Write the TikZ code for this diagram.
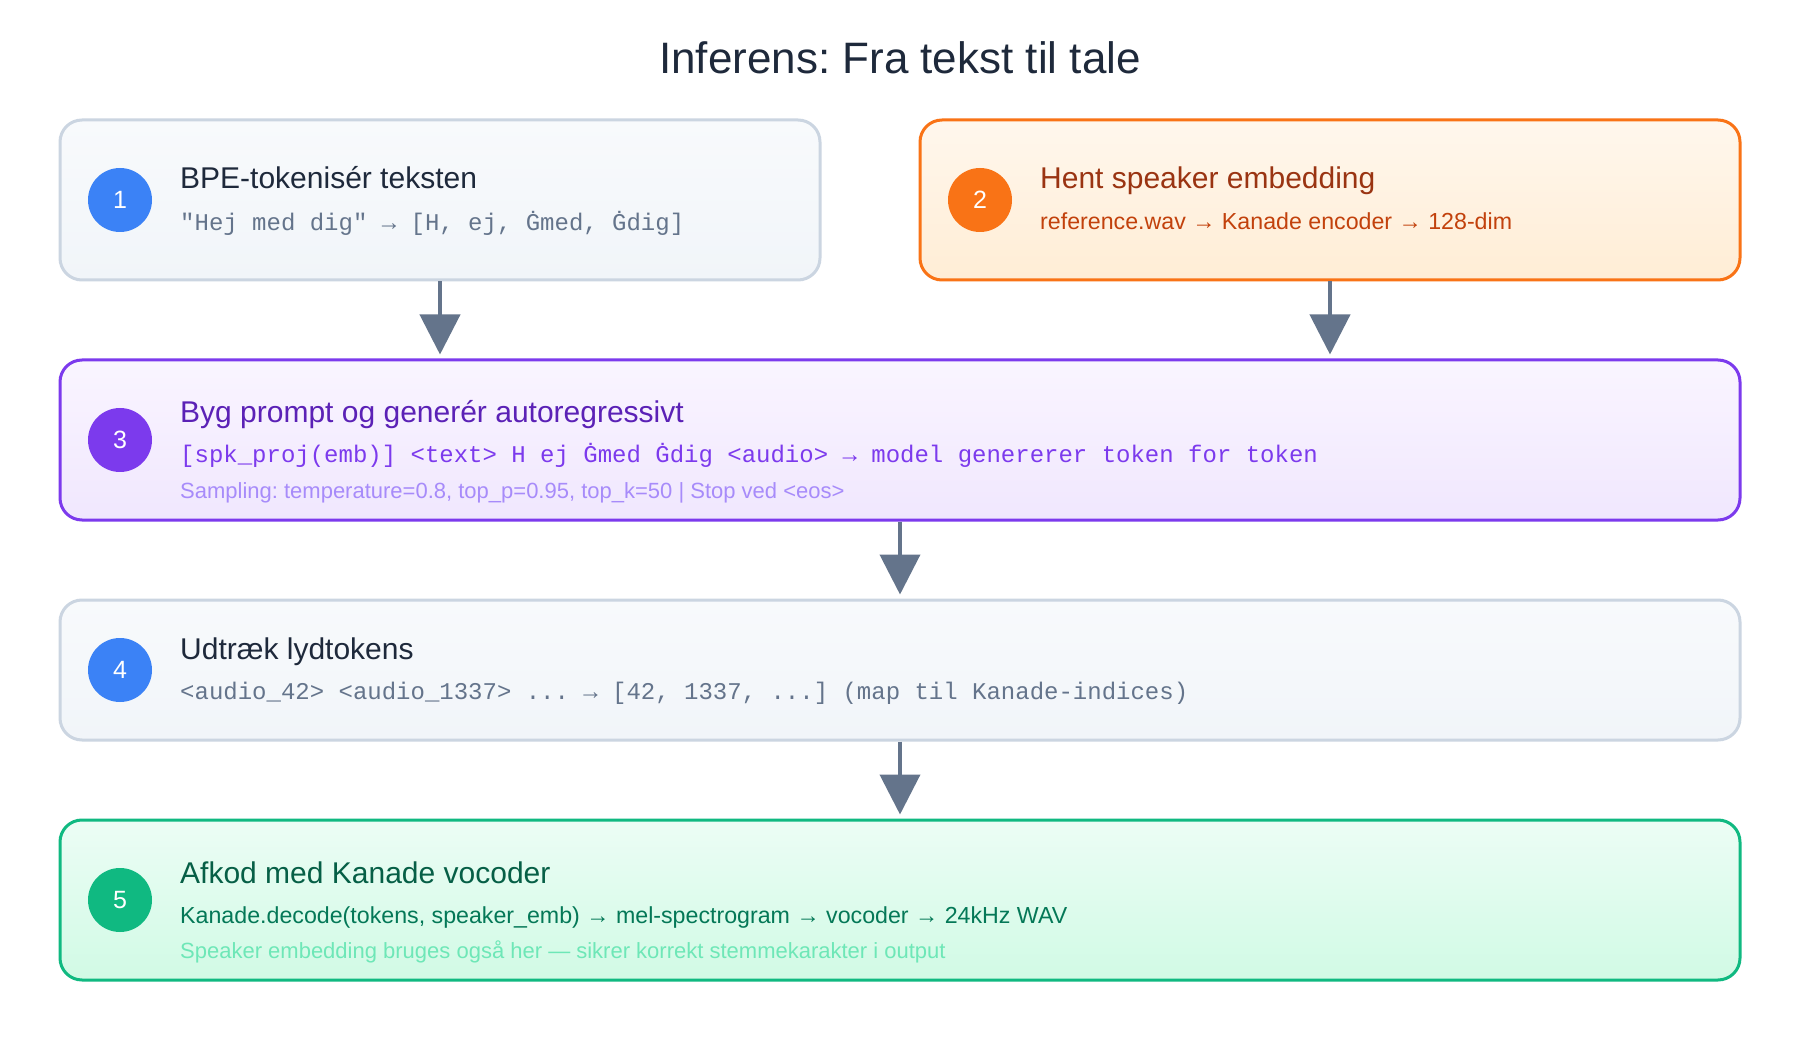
\documentclass[tikz,border=0pt]{standalone}
\usepackage{fontspec}
\setmainfont{Liberation Sans}
\setmonofont{Liberation Mono}
\usepackage{xcolor}
\usetikzlibrary{arrows.meta}
\definecolor{ink}{HTML}{1E293B}
\definecolor{arrowgray}{HTML}{64748B}
\definecolor{slateline}{HTML}{CBD5E1}
\definecolor{slatetop}{HTML}{F8FAFC}
\definecolor{slatebot}{HTML}{F1F5F9}
\definecolor{slatesub}{HTML}{64748B}
\definecolor{bluedot}{HTML}{3B82F6}
\definecolor{orangeline}{HTML}{F97316}
\definecolor{orangetop}{HTML}{FFF7ED}
\definecolor{orangebot}{HTML}{FFEDD5}
\definecolor{orangehead}{HTML}{9A3412}
\definecolor{orangesub}{HTML}{C2410C}
\definecolor{violetline}{HTML}{7C3AED}
\definecolor{violettop}{HTML}{FAF5FF}
\definecolor{violetbot}{HTML}{F0E7FE}
\definecolor{violethead}{HTML}{5B21B6}
\definecolor{violetsub}{HTML}{7C3AED}
\definecolor{violetnote}{HTML}{A78BFA}
\definecolor{greenline}{HTML}{10B981}
\definecolor{greentop}{HTML}{ECFDF5}
\definecolor{greenbot}{HTML}{D1FAE5}
\definecolor{greenhead}{HTML}{065F46}
\definecolor{greensub}{HTML}{047857}
\definecolor{greennote}{HTML}{6EE7B7}
\newcommand{\fs}[1]{\fontsize{#1}{#1}\selectfont}
\newcommand{\headtxt}[1]{{\fs{30}#1}}
\newcommand{\codetxt}[1]{{\fs{24}\ttfamily #1}}
\newcommand{\subtxt}[1]{{\fs{23.2}#1}}
\newcommand{\notetxt}[1]{{\fs{22}#1}}
\tikzset{
  box/.style={draw, line width=3pt, rounded corners=22pt, inner sep=0pt},
  badge/.style={circle, minimum size=64pt, inner sep=0pt, text=white, font=\fs{25}},
  txt/.style={anchor=base west, inner sep=0pt},
  flow/.style={color=arrowgray, line width=4pt, shorten >=4pt,
    -{Triangle[width=40pt,length=40pt]}}
}

\begin{document}
\frenchspacing
\begin{tikzpicture}[x=1pt,y=-1pt]
    \useasboundingbox[fill=white] (0,0) rectangle (1800,1040);
    \node[anchor=base, font=\fs{44}, text=ink] (title) at (900,74) {Inferens: Fra tekst til tale};

    % boxes
    \node[box, draw=slateline, top color=slatetop, bottom color=slatebot,
      minimum width=760pt, minimum height=160pt] (step-1) at (440,200) {};
    \node[box, draw=orangeline, top color=orangetop, bottom color=orangebot,
      minimum width=820pt, minimum height=160pt] (step-2) at (1330,200) {};
    \node[box, draw=violetline, top color=violettop, bottom color=violetbot,
      minimum width=1680pt, minimum height=160pt] (step-3) at (900,440) {};
    \node[box, draw=slateline, top color=slatetop, bottom color=slatebot,
      minimum width=1680pt, minimum height=140pt] (step-4) at (900,670) {};
    \node[box, draw=greenline, top color=greentop, bottom color=greenbot,
      minimum width=1680pt, minimum height=160pt] (step-5) at (900,900) {};

    % numbers
    \node[badge, fill=bluedot]    (num-1) at (120,200) {1};
    \node[badge, fill=orangeline] (num-2) at (980,200) {2};
    \node[badge, fill=violetline] (num-3) at (120,440) {3};
    \node[badge, fill=bluedot]    (num-4) at (120,670) {4};
    \node[badge, fill=greenline]  (num-5) at (120,900) {5};

    % texts
    \node[txt, text=ink] (head-1) at (180,189) {\headtxt{BPE-tokenisér teksten}};
    \node[txt, text=slatesub] (code-1) at (180,231) {\codetxt{"Hej med dig" → [H, ej, Ġmed, Ġdig]}};
    \node[txt, text=orangehead] (head-2) at (1040,189) {\headtxt{Hent speaker embedding}};
    \node[txt, text=orangesub] (sub-2) at (1040,230) {\subtxt{reference.wav → Kanade encoder → 128-dim}};
    \node[txt, text=violethead] (head-3) at (180,423) {\headtxt{Byg prompt og generér autoregressivt}};
    \node[txt, text=violetsub] (code-3) at (180,463) {\codetxt{[spk\_proj(emb)] <text> H ej Ġmed Ġdig <audio> → model genererer token for token}};
    \node[txt, text=violetnote] (note-3) at (180,498) {\notetxt{Sampling: temperature=0.8, top\_p=0.95, top\_k=50 | Stop ved <eos>}};
    \node[txt, text=ink] (head-4) at (180,659) {\headtxt{Udtræk lydtokens}};
    \node[txt, text=slatesub] (code-4) at (180,699) {\codetxt{<audio\_42> <audio\_1337> ... → [42, 1337, ...] (map til Kanade-indices)}};
    \node[txt, text=greenhead] (head-5) at (180,883) {\headtxt{Afkod med Kanade vocoder}};
    \node[txt, text=greensub] (sub-5) at (180,923) {\subtxt{Kanade.decode(tokens, speaker\_emb) → mel-spectrogram → vocoder → 24kHz WAV}};
    \node[txt, text=greennote] (note-5) at (180,958) {\notetxt{Speaker embedding bruges også her — sikrer korrekt stemmekarakter i output}};

    \path[flow]
    (step-1.south) edge (step-1.south |- step-3.north)
    (step-2.south) edge (step-2.south |- step-3.north)
    (step-3.south) edge (step-4.north)
    (step-4.south) edge (step-5.north);
\end{tikzpicture}
\end{document}
